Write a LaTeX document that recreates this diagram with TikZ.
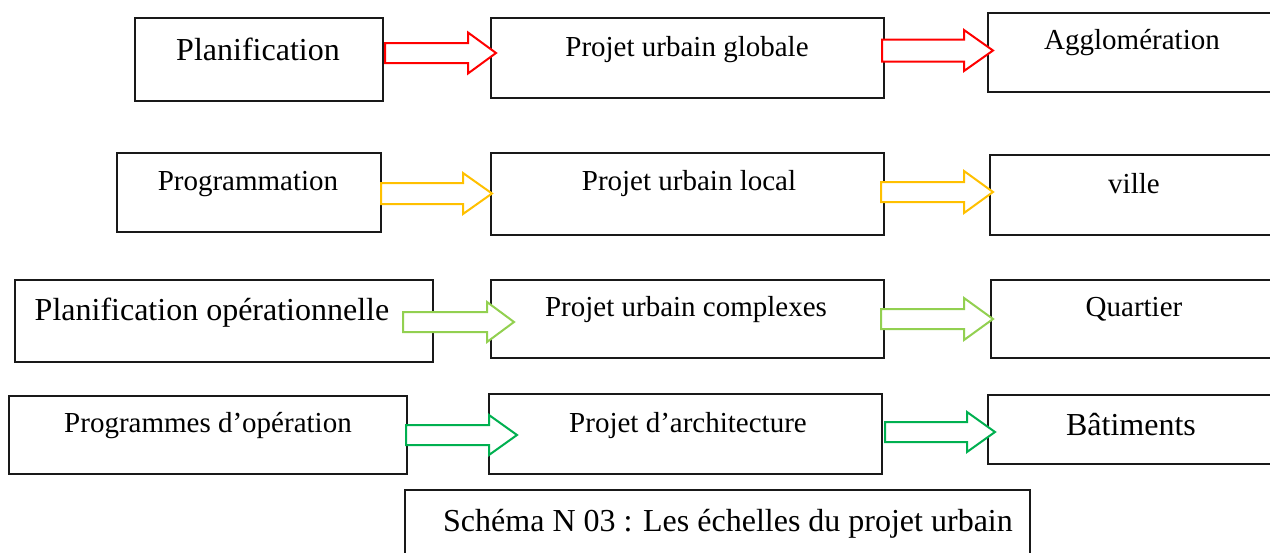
\documentclass[tikz,border=0pt]{standalone}
\usepackage{fontspec}
\setmainfont{Liberation Serif}
\usetikzlibrary{fit}
\definecolor{cred}{HTML}{FF0000}
\definecolor{cyel}{HTML}{FFC000}
\definecolor{clgr}{HTML}{92D050}
\definecolor{cgrn}{HTML}{00B050}
\tikzset{
  box/.style={draw=black!90, line width=1.8pt, fill=white, inner sep=0pt},
  txt/.style={anchor=base, inner sep=0pt, font=\fontsize{29}{34}\selectfont},
  bigtxt/.style={anchor=base, inner sep=0pt, font=\fontsize{32}{38}\selectfont},
  barrowline/.style={line width=2pt, fill=white, line join=miter}
}
% block arrow: colour, x start, x head base, x tip, y centre, half shaft, half head
\newcommand{\blockarr}[7]{%
  \draw[barrowline, draw=#1] ({#2},{#5-#6}) -- ({#3},{#5-#6}) -- ({#3},{#5-#7}) -- ({#4},{#5})
    -- ({#3},{#5+#7}) -- ({#3},{#5+#6}) -- ({#2},{#5+#6}) -- cycle;}
\begin{document}
\begin{tikzpicture}[x=1pt,y=-1pt]
\useasboundingbox (0,0) rectangle (1270,552);
\clip (0,0) rectangle (1270,552);
\fill[white] (0,0) rectangle (1270,552);
% row 1
\node[box, fit={(135,18) (383,101)}] (L1) {};
\node[box, fit={(491,18) (884,98)}] (M1) {};
\node[box, fit={(988,13) (1290,92)}] (R1) {};
% row 2
\node[box, fit={(117,153) (381,232)}] (L2) {};
\node[box, fit={(491,153) (884,235)}] (M2) {};
\node[box, fit={(990,155) (1290,235)}] (R2) {};
% row 3
\node[box, fit={(15,280) (433,362)}] (L3) {};
\node[box, fit={(491,280) (884,358)}] (M3) {};
\node[box, fit={(991,280) (1290,358)}] (R3) {};
% row 4
\node[box, fit={(9,396) (407,474)}] (L4) {};
\node[box, fit={(489,394) (882,474)}] (M4) {};
\node[box, fit={(988,395) (1290,464)}] (R4) {};
% caption
\node[box, fit={(405,490) (1030,570)}] (C) {};
% texts
\node[bigtxt] (tL1) at (258,60) {Planification};
\node[txt] (tM1) at (687,56) {Projet urbain globale};
\node[txt] (tR1) at (1132,49) {Agglomération};
\node[txt] (tL2) at (248,190) {Programmation};
\node[txt] (tM2) at (689,190) {Projet urbain local};
\node[txt] (tR2) at (1134,193) {ville};
\node[bigtxt] (tL3) at (212,320) {Planification opérationnelle};
\node[txt] (tM3) at (686,316) {Projet urbain complexes};
\node[txt] (tR3) at (1134,316) {Quartier};
\node[txt] (tL4) at (208,432) {Programmes d’opération};
\node[txt] (tM4) at (688,432) {Projet d’architecture};
\node[bigtxt] (tR4) at (1131,435) {Bâtiments};
\node[bigtxt] (tC) at (728,531) {Schéma N 03 : Les échelles du projet urbain};
% arrows
\blockarr{cred}{385}{468}{496}{53}{10}{20.5}
\blockarr{cred}{882}{964}{993}{50.5}{11}{20.5}
\blockarr{cyel}{381}{463}{492}{193.5}{10.5}{20.5}
\blockarr{cyel}{881}{964}{993}{192}{10}{21}
\blockarr{clgr}{403}{487}{514}{322}{10}{20}
\blockarr{clgr}{881}{964}{993}{319}{10}{21}
\blockarr{cgrn}{406}{489}{517}{435}{10}{20}
\blockarr{cgrn}{885}{967}{995}{432}{10}{20}
\end{tikzpicture}
\end{document}
